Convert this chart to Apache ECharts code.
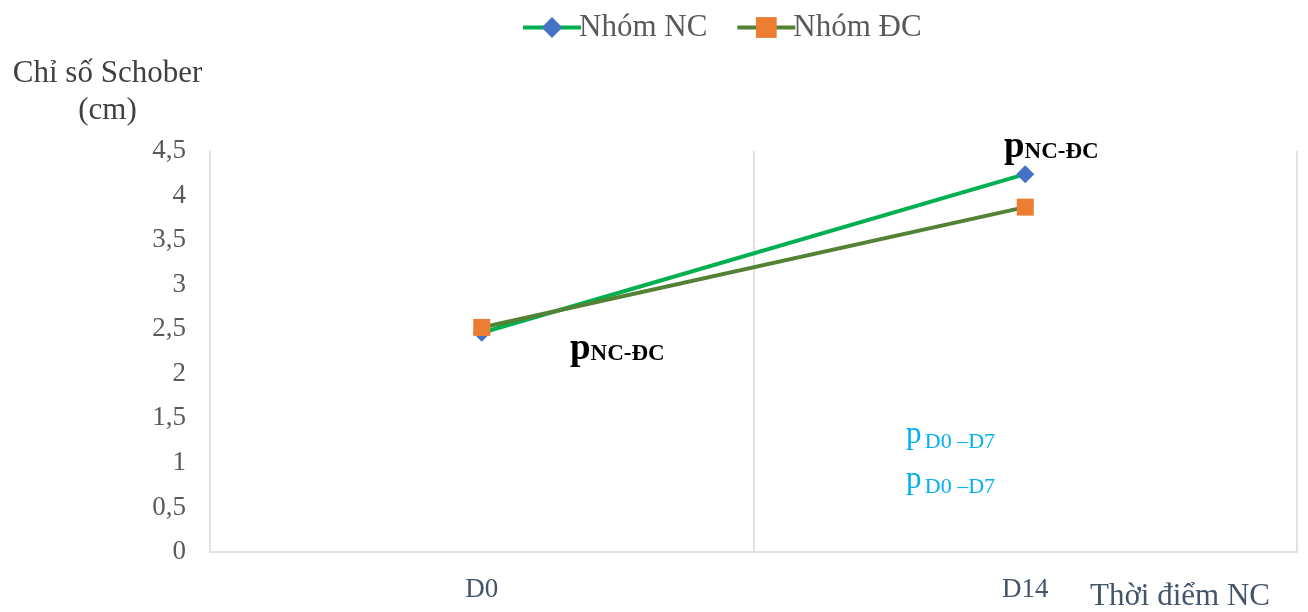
<!DOCTYPE html>
<html>
<head>
<meta charset="utf-8">
<script src="https://cdn.jsdelivr.net/npm/echarts@6/dist/echarts.min.js"></script>
<style>
  html, body { margin: 0; padding: 0; background: #fff; }
  #chart { width: 1308px; height: 612px; }
</style>
</head>
<body>
<div id="chart"></div>
<script>
// Schober index over time, two groups
const categories = ['D0', 'D14'];
const seriesNC = [2.46, 4.24];
const seriesDC = [2.52, 3.87];
const yTicks = { min: 0, max: 4.5, interval: 0.5 };

const FONT = '"Liberation Serif", "Times New Roman", serif';
const TEXT = '#595959';
const SLATE = '#44546a';

const chart = echarts.init(document.getElementById('chart'));

function pLabel(left, top, sub, opts) {
  return {
    type: 'text', left: left, top: top,
    style: {
      text: '{p|p}' + (opts.gap ? ' ' : '') + '{s|' + sub + '}',
      rich: {
        p: { fontFamily: FONT, fontSize: opts.pSize, fontWeight: opts.weight, fill: opts.color },
        s: { fontFamily: FONT, fontSize: opts.sSize, fontWeight: opts.weight, fill: opts.color, padding: [opts.drop, 0, 0, 0] }
      }
    }
  };
}

const boldBlack = { pSize: 37, sSize: 23, weight: 'bold', color: '#000', drop: 10, gap: false };
const cyan = { pSize: 31, sSize: 22, weight: 'normal', color: '#00b0f0', drop: 16, gap: true };

chart.setOption({
  animation: false,
  backgroundColor: '#ffffff',
  textStyle: { fontFamily: FONT },
  legend: {
    top: 7,
    left: 516,
    itemWidth: 58,
    itemHeight: 26,
    itemGap: 28,
    lineStyle: { width: 4 },
    textStyle: { fontFamily: FONT, fontSize: 31, color: TEXT, padding: [3, 0, 0, -7] },
    data: ['Nhóm NC', 'Nhóm ĐC']
  },
  grid: { left: 210, right: 11, top: 151, bottom: 60 },
  xAxis: {
    type: 'category',
    data: categories,
    boundaryGap: true,
    axisLine: { lineStyle: { color: '#d9d9d9', width: 1.5 } },
    axisTick: { show: false },
    splitLine: { show: true, showMinLine: false, lineStyle: { color: '#d9d9d9', width: 1.5 } },
    axisLabel: { fontFamily: FONT, fontSize: 27, color: SLATE, margin: 24 },
    name: 'Thời điểm NC',
    nameLocation: 'end',
    nameGap: 0,
    nameTextStyle: { fontFamily: FONT, fontSize: 31, color: SLATE, align: 'right', verticalAlign: 'top', padding: [29, 27, 0, 0] }
  },
  yAxis: {
    type: 'value',
    min: yTicks.min,
    max: yTicks.max,
    interval: yTicks.interval,
    axisLine: { show: true, lineStyle: { color: '#d9d9d9', width: 1.5 } },
    axisTick: { show: false },
    splitLine: { show: false },
    axisLabel: {
      fontFamily: FONT, fontSize: 27, color: TEXT, margin: 24,
      formatter: v => String(v).replace('.', ',')
    },
    name: 'Chỉ số Schober\n(cm)',
    nameLocation: 'end',
    nameGap: 22,
    nameTextStyle: { fontFamily: FONT, fontSize: 31, color: '#404040', align: 'center', lineHeight: 37, padding: [0, 0, 0, -205] }
  },
  series: [
    {
      name: 'Nhóm NC',
      type: 'line',
      data: seriesNC,
      symbol: 'diamond',
      symbolSize: 18,
      lineStyle: { color: '#00b050', width: 4 },
      itemStyle: { color: '#4472c4' },
      z: 2
    },
    {
      name: 'Nhóm ĐC',
      type: 'line',
      data: seriesDC,
      symbol: 'rect',
      symbolSize: 17,
      lineStyle: { color: '#548235', width: 4 },
      itemStyle: { color: '#ed7d31' },
      z: 3
    }
  ],
  graphic: [
    pLabel(570, 331, 'NC-ĐC', boldBlack),
    pLabel(1004, 129, 'NC-ĐC', boldBlack),
    pLabel(906, 419, 'D0 –D7', cyan),
    pLabel(906, 464, 'D0 –D7', cyan)
  ]
});
</script>
</body>
</html>
